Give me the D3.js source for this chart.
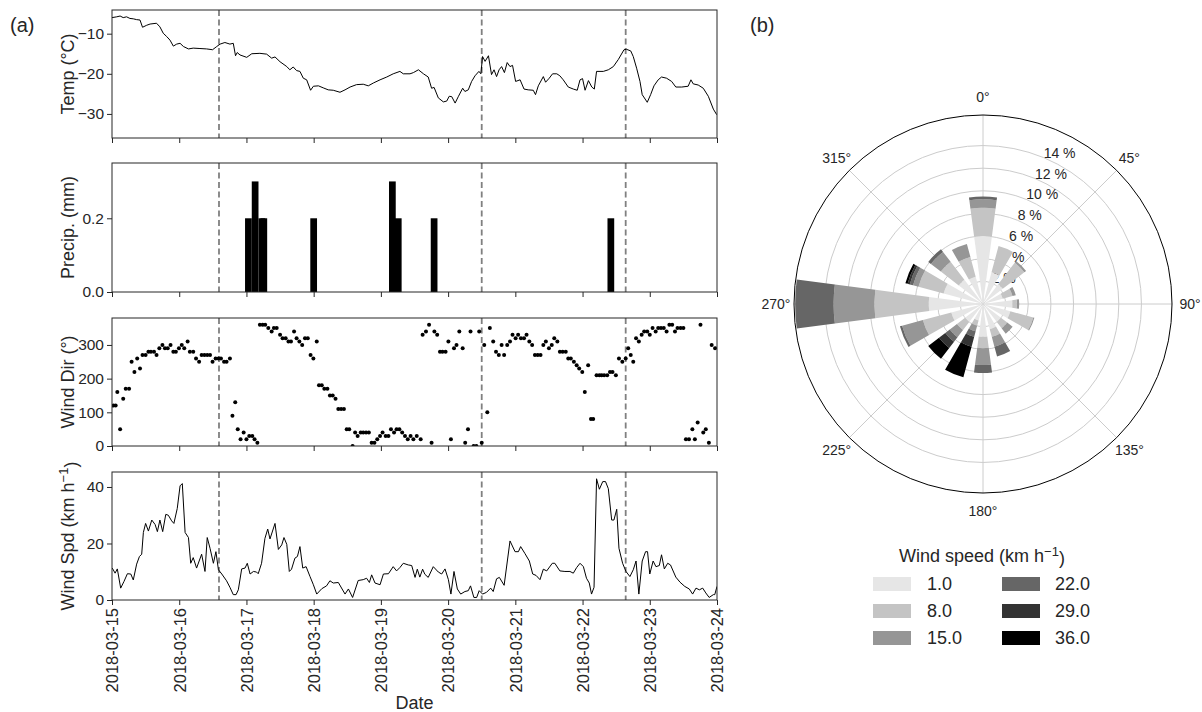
<!DOCTYPE html>
<html><head><meta charset="utf-8">
<script src="https://cdn.jsdelivr.net/npm/d3@7"></script>
<style>
body{margin:0;background:#fff}
text{font-family:"Liberation Sans",Arial,Helvetica,sans-serif;fill:#262626}
</style>
</head><body>
<svg id="c" width="1202" height="712"></svg>
<script>
// ---------------- DATA ----------------
const startDate = "2018-03-15T00:00:00Z";
const endDate = "2018-03-24T00:00:00Z";
// hours since start, value
const eventHours = [38.2, 132, 183.4];

const tempSeries = [[0,-6],[1.7,-5.8],[2.9,-5.6],[4,-6],[5.2,-5.8],[6.4,-6.2],[7.6,-6.3],[8.8,-6.5],[10,-6.6],[10.9,-8.4],[12.4,-7.9],[13.6,-7.6],[15.9,-7.4],[17.1,-8.3],[18.3,-9.9],[19.5,-10.7],[20.7,-11.6],[21.9,-13.1],[23.1,-12.6],[24.3,-12.4],[25.5,-13.2],[27.3,-13.8],[29,-13.6],[31.4,-13.7],[33.8,-13.8],[35.9,-14.0],[37.4,-13.2],[38.6,-12.6],[40.3,-12.2],[42.1,-12.6],[43.3,-12.4],[44.1,-15.5],[44.7,-14.7],[45.7,-15.3],[48.1,-15.9],[49.9,-15],[52.8,-14.9],[55.2,-15.1],[57,-16.1],[58.2,-15.8],[60,-17],[62.4,-18.2],[63.5,-19],[64.7,-18.3],[65.9,-19.2],[67.1,-19.4],[68.3,-21.1],[69.5,-21.5],[70.9,-24.1],[71.9,-23.1],[73.7,-23],[75.4,-23.5],[77.2,-24],[79,-24.1],[81.4,-24.6],[83.2,-24],[85,-23.3],[87.3,-22.7],[89.7,-22.6],[91.5,-23],[93.3,-22.3],[95.7,-21.5],[98.1,-20.8],[100.4,-20],[102.8,-19.4],[104,-20],[106.4,-20],[107.6,-19.7],[109.4,-19],[111.2,-20],[112.9,-20.8],[114.1,-23.6],[115,-23.4],[116.5,-26],[118.3,-27],[119.5,-26.8],[120.4,-25.6],[121.3,-25.7],[122.5,-27.3],[123.7,-25.6],[125.2,-23.6],[126,-24.4],[127.2,-24],[128.4,-21.9],[129.6,-20.5],[131,-19.4],[131.7,-20],[132.3,-15.7],[133.2,-16.9],[134.4,-15.5],[135.5,-20.2],[136.4,-19],[137.3,-20.7],[138.2,-19],[139.1,-18.2],[140.1,-19.7],[141.1,-17.2],[142.1,-18.2],[143,-17.9],[144.1,-21.9],[145.7,-21.5],[147.1,-23.8],[148.6,-24],[150.4,-24.1],[151.2,-25.2],[152.2,-23],[154,-20.7],[154.8,-22.1],[156.1,-21.1],[157.3,-20],[158.8,-20],[159.9,-20.5],[161.1,-21.5],[162.9,-23.3],[164.7,-23.8],[166.1,-24.1],[167.1,-21.5],[168,-21.2],[168.9,-24.1],[170.1,-21.7],[171.3,-23.3],[172.2,-23.8],[173,-19.4],[175.4,-19.4],[177.2,-19],[179,-18.2],[180.8,-16.4],[182.8,-14],[183.7,-13.9],[185.2,-14.3],[186.1,-15.7],[187.3,-18.6],[188.5,-21.9],[189.3,-25.2],[191.1,-27.1],[192.3,-25.2],[193.5,-23],[195,-21.5],[196.2,-20.8],[198,-21.1],[199.8,-21.9],[201.3,-23.3],[203.4,-23.3],[205.7,-23.1],[206.7,-21.5],[207.5,-22.5],[209.3,-22.8],[211.1,-23.6],[212.9,-25.6],[214.7,-28.8],[215.9,-30.2]];

const precipSeries = [[47.5,0.2],[49.9,0.3],[52.3,0.2],[53.0,0.2],[70.8,0.2],[98.9,0.3],[101.0,0.2],[113.8,0.2],[176.9,0.2]];

const windDirSeries = [[0.5,120],[1.3,120],[1.9,160],[2.9,50],[4,140],[4.9,170],[6.1,170],[7,250],[8,220],[9,260],[10,230],[10.9,270],[12,270],[13,280],[13.9,280],[15,280],[15.9,270],[16.9,290],[18,300],[18.9,290],[19.9,290],[20.9,300],[21.9,280],[22.8,280],[23.9,290],[24.9,300],[25.8,290],[27,310],[27.8,280],[29,280],[30,260],[31.1,250],[32,270],[33,270],[34,270],[35,270],[35.9,250],[37,260],[38,260],[38.9,260],[40,250],[40.9,250],[42.1,260],[43,90],[44,130],[44.9,50],[45.9,20],[47,40],[48,20],[49,30],[50.1,30],[50.9,20],[51.9,10],[52.8,360],[53.8,360],[54.7,360],[55.8,350],[57,340],[57.8,350],[58.8,350],[60,330],[60.9,320],[62,320],[63,310],[63.9,310],[65,340],[65.9,320],[66.9,310],[67.9,300],[68.9,320],[69.9,320],[70.9,270],[71.9,260],[73.1,310],[73.9,180],[74.9,180],[75.8,170],[76.9,170],[77.8,150],[78.8,150],[79.8,140],[80.8,110],[81.8,110],[82.8,110],[83.8,50],[84.7,50],[85.9,0],[86.8,40],[87.7,30],[88.8,40],[89.7,40],[90.7,40],[91.7,40],[92.7,10],[93.7,10],[94.7,20],[95.7,30],[96.6,40],[97.7,30],[98.7,30],[99.6,50],[100.7,40],[101.6,50],[102.6,50],[103.6,40],[104.6,30],[105.6,20],[106.6,30],[107.6,20],[108.8,30],[110.2,20],[110.9,330],[112.1,340],[113.2,360],[114.1,10],[115.1,340],[116.1,330],[117.1,280],[118,280],[119.1,280],[120.1,310],[121,20],[122.1,290],[123,300],[124,340],[125.2,290],[126.1,10],[127.1,50],[128,340],[129.1,0],[130.1,0],[131.1,340],[132,10],[132.9,300],[134,100],[134.9,350],[136.1,310],[137.1,280],[138.1,270],[139.1,300],[140,270],[141.1,300],[142.1,310],[143,330],[144.1,320],[145,330],[146,320],[147.1,320],[148,330],[149,310],[150,300],[151,270],[152,270],[153,270],[154,300],[154.9,310],[156,290],[157,300],[157.9,320],[159,310],[159.9,280],[160.9,280],[162,280],[162.9,260],[163.8,260],[164.9,250],[165.9,240],[166.8,230],[167.9,220],[168.8,160],[170,240],[171,80],[171.8,80],[173,210],[174,210],[174.8,210],[175.7,210],[176.8,210],[177.8,220],[178.7,220],[179.9,210],[181,260],[182.2,250],[183.4,260],[184.3,290],[185.2,270],[186.1,250],[187.1,320],[188.1,310],[189.1,330],[190,340],[191.1,340],[192,330],[193,350],[194.1,340],[195,350],[196,350],[197,350],[198,340],[199,360],[200,360],[201,340],[201.9,350],[203,350],[204,350],[204.9,20],[206,20],[207.2,50],[208.1,20],[209.1,70],[210.1,360],[211.1,40],[212,50],[213.1,10],[214.1,300],[215.3,290]];

const windSpdSeries = [[0.1,11.3],[1.1,9.5],[1.9,11],[3.1,4.2],[4.3,6.6],[5.5,9.3],[6.7,9.2],[7.6,7.1],[8.8,12.7],[9.8,15.4],[10.6,16.2],[11.2,23.9],[12,27.1],[13,24.4],[14.2,28.3],[15.4,26.7],[16.2,24.2],[17.1,28.3],[18.1,24.2],[19.2,30.3],[20.1,30],[21.3,28],[22.1,27.1],[23.3,32.4],[24.3,40.4],[25.1,41.2],[26.1,23.9],[27.3,22.1],[28.1,13],[29,15],[30.2,11.3],[32,16.2],[33.2,10.1],[34,22.1],[35,18.3],[36.2,13],[37.1,17.1],[38,10.7],[39.2,9.2],[40.9,6.8],[42.1,4.5],[43.3,1.9],[44.3,1.9],[45.1,3.6],[46.3,11],[47.5,11.3],[48.3,13],[49.3,9.2],[50.5,10.1],[51.6,9.9],[52.2,9.3],[53.4,13],[54.6,21.8],[55.6,25.1],[56.4,21.6],[58.2,27.1],[59.4,17.9],[60.6,19.5],[61.4,22.1],[62.4,19.7],[63.3,10.1],[64.1,10.9],[65.3,14.8],[66.2,15.4],[67.1,18.9],[68.1,11.3],[69.3,11.8],[70.7,8.3],[71.9,5.4],[73.1,2.1],[74.9,4],[76.6,5],[77.8,6.8],[79,6],[80.8,6.2],[83.2,2.1],[84.4,3.9],[85.9,0.9],[87.9,6.9],[89.7,7.2],[90.9,7.7],[91.9,6.2],[92.7,8.9],[93.9,6],[95.7,5.4],[96.9,9.2],[98.7,9.3],[100.4,11.8],[101.6,10.3],[102.8,11.5],[104,13],[105.8,12.4],[107,12.2],[108.2,8],[109,10.9],[109.9,8.1],[110.9,10.9],[111.7,9.1],[112.9,8],[114.7,11.8],[116.5,9.9],[117.7,9.2],[118.9,11],[120.1,7.2],[121,2.1],[122.1,10.1],[123.3,3.9],[124.5,2.1],[126,3],[127.2,3.3],[128,5],[129.2,0.9],[130.2,0.9],[131.1,3.3],[132.3,2.1],[133.7,2.7],[135.2,4.2],[136.1,3],[137.3,7.5],[138.3,8],[140,5.2],[142.1,20.9],[143.9,17.1],[145.1,17.1],[145.9,18.9],[147.4,16.5],[149,13.8],[150.2,9.2],[151.4,8.7],[152.8,7.2],[154,10.9],[155.2,10.3],[157.2,13],[158.1,13],[159.9,10.3],[161.7,10.1],[163.5,10.1],[164.7,9.5],[165.9,11.5],[167.1,13],[168.3,11.8],[169.4,7.7],[170.4,6],[171.2,2.1],[172.1,4.5],[173,42.9],[174,39.2],[175.2,41.9],[176.2,41.9],[177.2,39.4],[178.4,28.3],[179.2,28.3],[180.2,32.1],[181,18.3],[182.3,13],[183.5,10.1],[184.9,8.3],[186.1,10.7],[187.1,13.8],[188.1,2.1],[189.3,13.8],[190.5,17.1],[191.2,17.1],[192,9.2],[193.2,13.8],[194.2,11.8],[195.4,12.2],[196.2,16],[197.2,11],[198.4,13],[199.4,12.4],[201.3,8.1],[202.8,6.3],[204.5,4.8],[206.1,3.9],[207.3,2.1],[208.5,4.2],[209.7,3.6],[210.9,4.2],[212,2.5],[213.2,0.9],[214.7,1.9],[215.2,1.9],[216,4.8]];

const tempTicks = [-10, -20, -30];
const precipTicks = [0.0, 0.2];
const dirTicks = [0, 100, 200, 300];
const spdTicks = [0, 20, 40];

// wind rose: frequency (%) per direction for each speed bin
const roseDirections = [0,22.5,45,67.5,90,112.5,135,157.5,180,202.5,225,247.5,270,292.5,315,337.5];
const speedBins = [1.0, 8.0, 15.0, 22.0, 29.0, 36.0];
const freqBin1  = [6.0,2.9,2.2,1.8,2.6,2.5,2.0,2.3,2.9,1.5,2.0,2.9,4.8,3.6,2.7,2.5];
const freqBin8  = [2.5,2.4,2.4,0.9,0.4,2.1,0.7,0.7,1.0,0.5,0.9,2.6,4.8,2.3,2.0,1.8];
const freqBin15 = [0.75,0,0.2,0.3,0.2,0.1,0.6,0.9,1.5,0.5,0.8,1.9,3.6,0.5,1.1,1.2];
const freqBin22 = [0.25,0,0,0,0,0,0,0.9,0.7,0.5,0.5,0.2,3.4,0.3,0.3,0];
const freqBin29 = [0,0,0,0,0,0,0,0,0,0.9,0.7,0,0,0.2,0,0];
const freqBin36 = [0,0,0,0,0,0,0,0,0,2.8,1.2,0,0,0.2,0,0];
const roseRingTicks = [2,4,6,8,10,12,14];
const compassTicks = [0,45,90,135,180,225,270,315];

// ---------------- DRAW ----------------
const svg = d3.select("#c");
const t0 = new Date(startDate), t1 = new Date(endDate);
const tm = h => new Date(t0.getTime() + h*3600e3);
const x = d3.scaleUtc().domain([t0, t1]).range([112, 717]);
const dark = "#262626";

const panels = [
  {top:10, bottom:138, domain:[-36,-4.1], ticks:tempTicks, fmt:d3.format("d"), label:"Temp (°C)"},
  {top:163, bottom:292, domain:[0,0.35], ticks:precipTicks, fmt:d3.format(".1f"), label:"Precip. (mm)"},
  {top:318, bottom:446, domain:[0,380], ticks:dirTicks, fmt:d3.format("d"), label:"Wind Dir (°)"},
  {top:472, bottom:600, domain:[0,45.3], ticks:spdTicks, fmt:d3.format("d"), label:"Wind Spd"}
];

panels.forEach((p, i) => {
  const y = d3.scaleLinear().domain(p.domain).range([p.bottom, p.top]);
  p.y = y;
  const g = svg.append("g");
  const clipId = "clip" + i;
  svg.append("clipPath").attr("id", clipId).append("rect")
    .attr("x", 112).attr("y", p.top).attr("width", 605).attr("height", p.bottom - p.top);
  const content = g.append("g").attr("clip-path", `url(#${clipId})`);

  // event lines
  content.selectAll("line.ev").data(eventHours).join("line")
    .attr("x1", d => x(tm(d))).attr("x2", d => x(tm(d)))
    .attr("y1", p.top).attr("y2", p.bottom)
    .attr("stroke", "#808080").attr("stroke-width", 1.8).attr("stroke-dasharray", "6,3.5");

  if (i === 0) {
    content.append("path").datum(tempSeries)
      .attr("d", d3.line().x(d => x(tm(d[0]))).y(d => y(d[1])))
      .attr("fill", "none").attr("stroke", "#000").attr("stroke-width", 1);
  } else if (i === 1) {
    const bw = 2.4;
    content.selectAll("rect.b").data(precipSeries).join("rect")
      .attr("x", d => x(tm(d[0]))).attr("width", d => x(tm(d[0] + bw)) - x(tm(d[0])))
      .attr("y", d => y(d[1])).attr("height", d => y(0) - y(d[1])).attr("fill", "#000");
  } else if (i === 2) {
    content.selectAll("circle").data(windDirSeries).join("circle")
      .attr("cx", d => x(tm(d[0]))).attr("cy", d => y(d[1])).attr("r", 2).attr("fill", "#000");
  } else {
    content.append("path").datum(windSpdSeries)
      .attr("d", d3.line().x(d => x(tm(d[0]))).y(d => y(d[1])))
      .attr("fill", "none").attr("stroke", "#000").attr("stroke-width", 1);
  }

  // frame
  g.append("rect").attr("x", 112).attr("y", p.top).attr("width", 605).attr("height", p.bottom - p.top)
    .attr("fill", "none").attr("stroke", dark).attr("stroke-width", 1);

  // y axis
  const ya = g.append("g").attr("transform", "translate(112,0)")
    .call(d3.axisLeft(y).tickValues(p.ticks).tickFormat(p.fmt).tickSize(5).tickPadding(3));
  ya.select(".domain").remove();
  ya.selectAll("line").attr("stroke", dark);
  ya.selectAll("text").style("font-size", "15.5px").attr("fill", dark);

  // x axis
  const xa = g.append("g").attr("transform", `translate(0,${p.bottom})`)
    .call(d3.axisBottom(x).ticks(d3.utcDay.every(1)).tickSize(5)
      .tickFormat(i === 3 ? d3.utcFormat("%Y-%m-%d") : () => ""));
  xa.select(".domain").remove();
  xa.selectAll("line").attr("stroke", dark);
  if (i === 3) {
    xa.selectAll("text").style("font-size", "16.5px").attr("fill", dark)
      .attr("transform", "rotate(-90)").attr("text-anchor", "end")
      .attr("x", -8).attr("y", 0).attr("dy", "0.35em");
  }

  // y label
  const cy = (p.top + p.bottom) / 2;
  const lab = svg.append("text").attr("transform", `translate(68,${cy}) rotate(-90)`)
    .attr("text-anchor", "middle").attr("dy", "0.35em").style("font-size", "18px");
  if (i === 3) {
    lab.append("tspan").text("Wind Spd (km h");
    lab.append("tspan").text("−1").attr("dy", "-0.45em").style("font-size", "13px");
    lab.append("tspan").text(")").attr("dy", "0.45em");
  } else {
    lab.text(p.label);
  }
});

svg.append("text").attr("x", 414.5).attr("y", 709).attr("text-anchor", "middle")
  .style("font-size", "18px").text("Date");
svg.append("text").attr("x", 10).attr("y", 32).style("font-size", "20px").text("(a)");
svg.append("text").attr("x", 750).attr("y", 32).style("font-size", "20px").text("(b)");

// ---------------- WIND ROSE ----------------
const cx = 983, cyR = 304, R = 189, rMax = 16.7;
const r = d3.scaleLinear().domain([0, rMax]).range([0, R]);
const rose = svg.append("g").attr("transform", `translate(${cx},${cyR})`);
const rad = deg => deg * Math.PI / 180;

// grid
rose.selectAll("circle.ring").data(roseRingTicks).join("circle")
  .attr("r", d => r(d)).attr("fill", "none").attr("stroke", "#cccccc").attr("stroke-width", 1);
rose.selectAll("line.spoke").data(compassTicks).join("line")
  .attr("x1", 0).attr("y1", 0)
  .attr("x2", d => R * Math.sin(rad(d))).attr("y2", d => -R * Math.cos(rad(d)))
  .attr("stroke", "#cccccc").attr("stroke-width", 1);

// ring labels (under bars)
rose.selectAll("text.rl").data(roseRingTicks).join("text")
  .attr("x", d => r(d) * Math.sin(rad(22.5))).attr("y", d => -r(d) * Math.cos(rad(22.5)))
  .style("font-size", "14px").text(d => d + " %");

// bars
const bins = [freqBin1, freqBin8, freqBin15, freqBin22, freqBin29, freqBin36];
const binColors = ["#e6e6e6", "#c4c4c4", "#969696", "#666666", "#333333", "#000000"];
const halfW = 7.5;
const segs = [];
roseDirections.forEach((dir, di) => {
  let cum = 0;
  bins.forEach((b, bi) => {
    const v = b[di];
    if (v > 0) segs.push({dir, r0: cum, r1: cum + v, color: binColors[bi]});
    cum += v;
  });
});
const arc = d3.arc().innerRadius(d => r(d.r0)).outerRadius(d => r(d.r1))
  .startAngle(d => rad(d.dir - halfW)).endAngle(d => rad(d.dir + halfW));
rose.selectAll("path.seg").data(segs).join("path").attr("d", arc).attr("fill", d => d.color);

// outer spine
rose.append("circle").attr("r", R).attr("fill", "none").attr("stroke", "#000").attr("stroke-width", 1);

// compass labels
rose.selectAll("text.cl").data(compassTicks).join("text")
  .attr("x", d => 207 * Math.sin(rad(d))).attr("y", d => -207 * Math.cos(rad(d)))
  .attr("text-anchor", "middle").attr("dy", "0.35em").style("font-size", "14px")
  .text(d => d + "°");

// legend
const leg = svg.append("g");
const lt = leg.append("text").attr("x", 982).attr("y", 562).attr("text-anchor", "middle").style("font-size", "18px");
lt.append("tspan").text("Wind speed (km h");
lt.append("tspan").text("−1").attr("dy", "-0.45em").style("font-size", "13px");
lt.append("tspan").text(")").attr("dy", "0.45em");
speedBins.forEach((s, i) => {
  const col = Math.floor(i / 3), row = i % 3;
  const sx = col === 0 ? 873 : 1002;
  const sy = 584 + row * 27;
  leg.append("rect").attr("x", sx).attr("y", sy - 7).attr("width", 38).attr("height", 14).attr("fill", binColors[i]);
  leg.append("text").attr("x", col === 0 ? 927 : 1055).attr("y", sy).attr("dy", "0.35em")
    .style("font-size", "18px").text(d3.format(".1f")(s));
});
</script>
</body></html>
